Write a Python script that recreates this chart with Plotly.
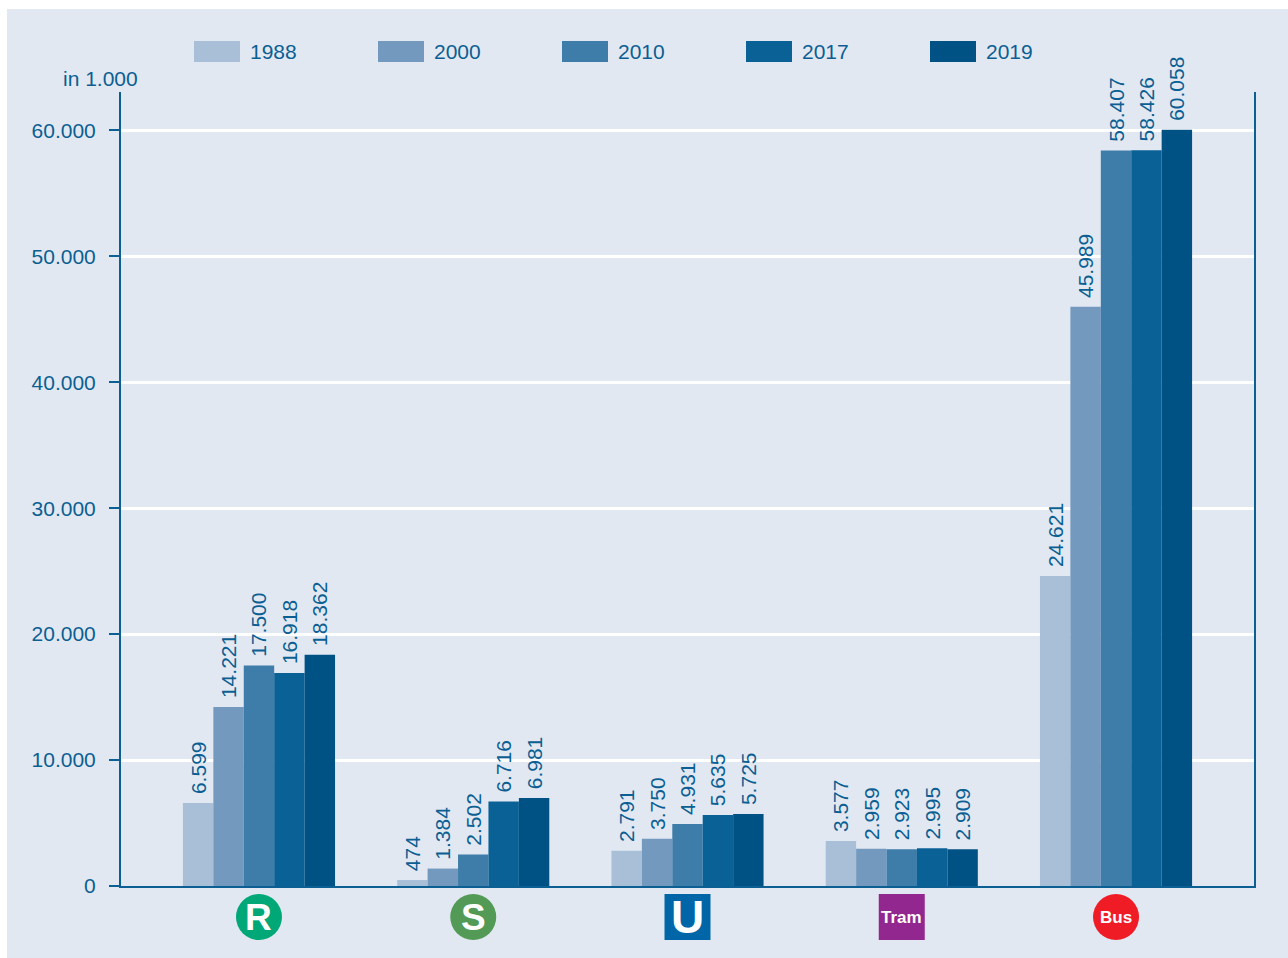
import plotly.graph_objects as go

categories = ["R", "S", "U", "Tram", "Bus"]
badge_colors = ["#00a878", "#529a55", "#0066a8", "#92278f", "#ef1c25"]
badge_shapes = ["circle", "circle", "rect", "rect", "circle"]
badge_font = [37, 37, 46, 17, 17]
years = ["1988", "2000", "2010", "2017", "2019"]
colors = ["#a9bfd8", "#7499bf", "#3e7da9", "#096196", "#005285"]
v1988 = [6599, 474, 2791, 3577, 24621]
v2000 = [14221, 1384, 3750, 2959, 45989]
v2010 = [17500, 2502, 4931, 2923, 58407]
v2017 = [16918, 6716, 5635, 2995, 58426]
v2019 = [18362, 6981, 5725, 2909, 60058]
series = [v1988, v2000, v2010, v2017, v2019]
tick_vals = [0, 10000, 20000, 30000, 40000, 50000, 60000]

INK = "#0b5f92"
BG = "#e2e8f2"
FONT = "Liberation Sans"
W, H = 1288, 958
L, R, T, B = 121, 34, 92, 72
PW, PH = W - L - R, H - T - B
X_RANGE = [-0.644, 4.644]


def px(x):
    return (x - L) / PW


def py(y):
    return (H - B - y) / PH


fig = go.Figure()
for name, vals, col in zip(years, series, colors):
    fig.add_trace(go.Bar(
        name=name, x=list(range(len(categories))), y=vals,
        marker=dict(color=col, line=dict(width=0)),
        texttemplate="\u00a0%{y:,}", textposition="outside", textangle=-90, constraintext="none",
        textfont=dict(family=FONT, size=21, color=INK),
        cliponaxis=False, showlegend=False,
    ))

shapes = [dict(type="rect", xref="paper", yref="paper", x0=px(7), x1=px(1288),
               y0=py(958), y1=py(9), fillcolor=BG, line=dict(width=0), layer="below")]
annotations = [dict(text="in 1.000", xref="paper", yref="paper", x=px(139.5), y=py(78.5),
                    xanchor="right", yanchor="middle", showarrow=False,
                    font=dict(family=FONT, size=21, color=INK))]

for i, (yr, col) in enumerate(zip(years, colors)):
    x0 = 194 + i * 184
    shapes.append(dict(type="rect", xref="paper", yref="paper", x0=px(x0), x1=px(x0 + 46),
                       y0=py(62), y1=py(41), fillcolor=col, line=dict(width=0)))
    annotations.append(dict(text=yr, xref="paper", yref="paper", x=px(x0 + 54), y=py(51.5),
                            xanchor="left", yanchor="middle", showarrow=False,
                            font=dict(family=FONT, size=21, color=INK)))

for i, cat in enumerate(categories):
    cx = (i - X_RANGE[0]) / (X_RANGE[1] - X_RANGE[0])
    shapes.append(dict(type=badge_shapes[i], xref="paper", yref="paper", xsizemode="pixel", ysizemode="pixel",
                       xanchor=cx, yanchor=0, x0=-23, x1=23, y0=-8, y1=-54,
                       fillcolor=badge_colors[i], line=dict(width=0)))
    annotations.append(dict(text=f"<b>{cat}</b>", xref="x", yref="paper", x=i, y=0, yshift=-31,
                            xanchor="center", yanchor="middle", showarrow=False,
                            font=dict(family=FONT, size=badge_font[i], color="white")))

fig.update_layout(
    width=W, height=H, margin=dict(l=L, r=R, t=T, b=B, autoexpand=False),
    paper_bgcolor="white", plot_bgcolor=BG,
    barmode="group", bargap=0.29, bargroupgap=0, separators=",.",
    shapes=shapes, annotations=annotations, showlegend=False,
    font=dict(family=FONT, color=INK),
    xaxis=dict(range=X_RANGE, showticklabels=False, ticks="", showgrid=False,
               showline=True, linecolor=INK, linewidth=2, zeroline=False),
    yaxis=dict(range=[0, 63050], tickvals=tick_vals, tickformat=",", ticks="outside", ticklen=10,
               tickwidth=2, tickcolor=INK, ticklabelstandoff=9,
               tickfont=dict(family=FONT, size=21, color=INK),
               showgrid=True, gridcolor="white", gridwidth=2.5, zeroline=False,
               showline=True, linecolor=INK, linewidth=2, mirror=True),
)

fig.write_html("out.html", config={"displayModeBar": False},
               post_script="document.body.style.margin='0';document.body.style.overflow='hidden';")
